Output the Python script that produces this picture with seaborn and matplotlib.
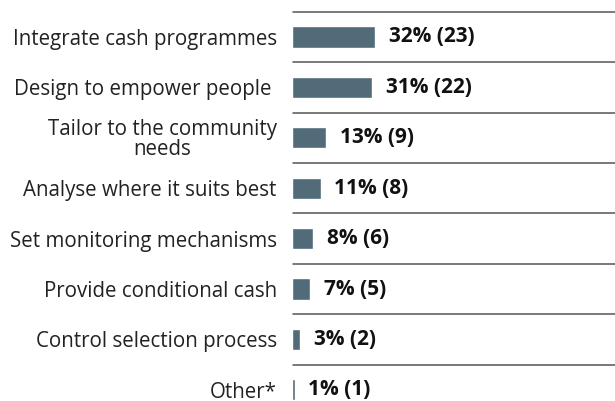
import matplotlib
matplotlib.use("Agg")
import matplotlib.pyplot as plt
import seaborn as sns
import pandas as pd

categories = [
    "Integrate cash programmes",
    "Design to empower people ",
    "Tailor to the community\nneeds",
    "Analyse where it suits best",
    "Set monitoring mechanisms",
    "Provide conditional cash",
    "Control selection process",
    "Other*",
]
percent = [32, 31, 13, 11, 8, 7, 3, 1]
counts = [23, 22, 9, 8, 6, 5, 2, 1]

df = pd.DataFrame({"category": categories, "percent": percent, "count": counts})

sns.set_theme(style="white")
plt.rcParams["font.family"] = ["Open Sans", "DejaVu Sans"]

fig = plt.figure(figsize=(6.15, 4.01), dpi=100)
ax = fig.add_axes([292 / 615, 0, 1 - 292 / 615, 1])

sns.barplot(data=df, x="percent", y="category", orient="h", color="#526b79",
            width=0.42, saturation=1, ax=ax)

ax.set_xlim(0, 124.6)
ax.set_ylim(7.222, -0.734)

# thin separators above each row
for i in range(len(categories)):
    ax.axhline(i - 0.5, color="#555555", lw=1.1, xmin=0.003)

for i, (p, c) in enumerate(zip(percent, counts)):
    ax.annotate(f"{p}% ({c})", xy=(p, i), xytext=(10, 0), textcoords="offset points",
                ha="left", va="center", fontsize=15, fontweight="bold", color="#111111")

ax.set_xlabel("")
ax.set_ylabel("")
ax.set_xticks([])
ax.tick_params(axis="y", length=0, pad=11)
for lbl in ax.get_yticklabels():
    lbl.set_fontsize(14.8)
    lbl.set_color("#222222")
    lbl.set_multialignment("center")
    lbl.set_linespacing(0.95)
for s in ax.spines.values():
    s.set_visible(False)

fig.savefig("out.png", dpi=100)
